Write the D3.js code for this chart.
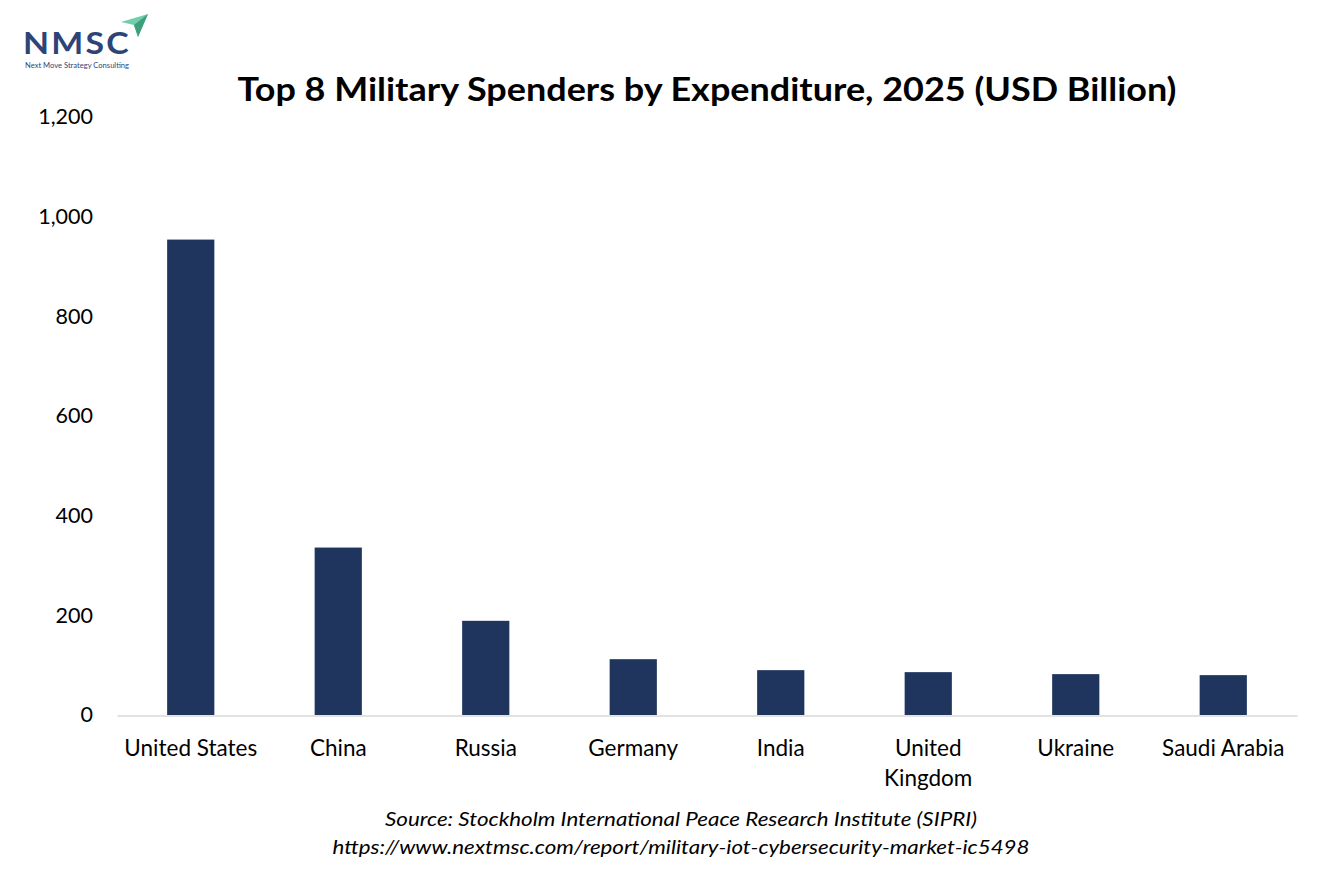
<!DOCTYPE html>
<html>
<head>
<meta charset="utf-8">
<script src="https://cdn.jsdelivr.net/npm/d3@7"></script>
<style>
  html, body { margin: 0; padding: 0; background: #fff; }
  svg { display: block; }
  text { font-family: Lato, "Open Sans", sans-serif; }
</style>
</head>
<body>
<svg id="chart" width="1334" height="889"></svg>
<script>
// ---- data ----
const categories = ["United States", "China", "Russia", "Germany", "India", "United Kingdom", "Ukraine", "Saudi Arabia"];
const tickLines = [["United States"], ["China"], ["Russia"], ["Germany"], ["India"], ["United", "Kingdom"], ["Ukraine"], ["Saudi Arabia"]];
const values = [954, 336, 189, 112, 90, 86, 82, 80];
const yTicks = [0, 200, 400, 600, 800, 1000, 1200];
const titleText = "Top 8 Military Spenders by Expenditure, 2025 (USD Billion)";
const sourceText = "Source: Stockholm International Peace Research Institute (SIPRI)";
const urlText = "https://www.nextmsc.com/report/military-iot-cybersecurity-market-ic5498";

const svg = d3.select("#chart");

const x = d3.scaleBand().domain(categories).range([117, 1297]).paddingInner(0.68).paddingOuter(0.34);
const y = d3.scaleLinear().domain([0, 1200]).range([715, 117]);

// logo
const logo = svg.append("g");
logo.append("text").attr("x", 23).attr("y", 54)
  .attr("font-family", "'DejaVu Sans', sans-serif").attr("font-weight", "bold")
  .attr("font-size", 30).attr("fill", "#2d4476").attr("letter-spacing", 2)
  .attr("textLength", 108).attr("lengthAdjust", "spacingAndGlyphs")
  .text("NMSC");
logo.append("path").attr("d", "M121,22 L148,14 L138,37 L134,25 Z").attr("fill", "#6fcfac");
logo.append("path").attr("d", "M134,25 L148,14 L138,37 Z").attr("fill", "#3f9e7c");
logo.append("text").attr("x", 25).attr("y", 68).attr("font-size", 7).attr("fill", "#2d4476")
  .attr("textLength", 104).attr("lengthAdjust", "spacingAndGlyphs")
  .text("Next Move Strategy Consulting");

// title
svg.append("text").attr("x", 707).attr("y", 101).attr("text-anchor", "middle")
  .attr("font-weight", "bold").attr("font-size", 32).attr("fill", "#000")
  .attr("textLength", 939).attr("lengthAdjust", "spacingAndGlyphs")
  .text(titleText);

// y axis labels
const yAxis = d3.axisLeft(y).tickValues(yTicks).tickFormat(d3.format(",")).tickSize(0).tickPadding(0);
const gy = svg.append("g").attr("transform", "translate(93,0)").call(yAxis);
gy.select(".domain").remove();
gy.selectAll("text").attr("font-family", "Lato, sans-serif").attr("font-size", 21.5).attr("fill", "#000");

// bars
svg.append("g").selectAll("rect").data(values).join("rect")
  .attr("x", (d, i) => x(categories[i]))
  .attr("width", x.bandwidth())
  .attr("y", d => y(d))
  .attr("height", d => y(0) - y(d))
  .attr("fill", "#1f355e");

// x axis
const xAxis = d3.axisBottom(x).tickSize(0).tickFormat("");
const gx = svg.append("g").attr("transform", `translate(0,${y(0) + 0.5})`).call(xAxis);
gx.select(".domain").attr("stroke", "#d9d9d9").attr("stroke-width", 1.6);
gx.selectAll(".tick").each(function(d, i) {
  const t = d3.select(this).append("text").attr("text-anchor", "middle")
    .attr("font-size", 22.5).attr("fill", "#000");
  tickLines[i].forEach((line, k) => {
    t.append("tspan").attr("x", 0).attr("y", 40 + k * 30).text(line);
  });
});

// source
svg.append("text").attr("x", 681).attr("y", 826).attr("text-anchor", "middle")
  .attr("font-style", "italic").attr("font-size", 20).attr("fill", "#000")
  .attr("textLength", 592).attr("lengthAdjust", "spacingAndGlyphs")
  .text(sourceText);
svg.append("text").attr("x", 681).attr("y", 854).attr("text-anchor", "middle")
  .attr("font-style", "italic").attr("font-size", 20).attr("fill", "#000")
  .attr("textLength", 697).attr("lengthAdjust", "spacingAndGlyphs")
  .text(urlText);
</script>
</body>
</html>
